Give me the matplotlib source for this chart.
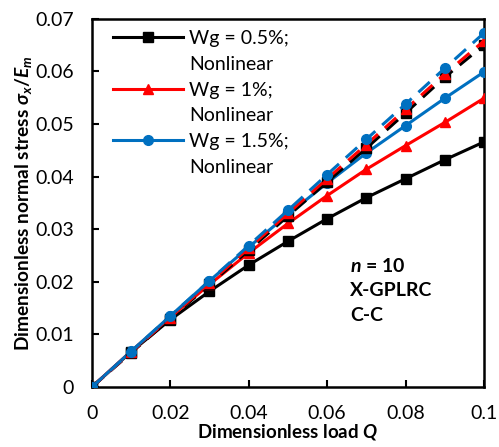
import matplotlib
matplotlib.use("Agg")
import matplotlib.pyplot as plt
from matplotlib.lines import Line2D

plt.rcParams['font.family'] = ['Lato', 'DejaVu Sans']
plt.rcParams['mathtext.fontset'] = 'custom'
plt.rcParams['mathtext.rm'] = 'Lato:bold'
plt.rcParams['mathtext.it'] = 'Lato:bold:italic'
plt.rcParams['mathtext.bf'] = 'Lato:bold'

Q = [0, 0.01, 0.02, 0.03, 0.04, 0.05, 0.06, 0.07, 0.08, 0.09, 0.1]

nl_05 = [0, 0.0067, 0.0128, 0.0182, 0.0232, 0.0277, 0.0320, 0.0360, 0.0396, 0.0432, 0.0466]
nl_10 = [0, 0.0068, 0.0133, 0.0195, 0.0255, 0.0311, 0.0364, 0.0414, 0.0459, 0.0503, 0.0549]
nl_15 = [0, 0.0068, 0.0135, 0.0202, 0.0266, 0.0328, 0.0388, 0.0445, 0.0497, 0.0549, 0.0599]

lin_05 = [0, 0.0065, 0.0130, 0.0195, 0.0260, 0.0325, 0.0390, 0.0454, 0.0521, 0.0589, 0.0650]
lin_10 = [0, 0.0066, 0.0132, 0.0198, 0.0264, 0.0330, 0.0396, 0.0461, 0.0528, 0.0595, 0.0658]
lin_15 = [0, 0.0067, 0.0135, 0.0202, 0.0269, 0.0336, 0.0404, 0.0471, 0.0538, 0.0606, 0.0673]

labels = ["Wg = 0.5%;", "Wg = 1%;", "Wg = 1.5%;"]
label2 = "Nonlinear"
colors = ["#000000", "#FF0000", "#0070C0"]
markers = ["s", "^", "o"]
msizes = [6.5, 6.5, 7]

fig = plt.figure(figsize=(4.99, 4.47), dpi=100)
ax = fig.add_axes([0.184, 0.134, 0.786, 0.824])

handles = []
leg_labels = []
for y, c, m, ms, lab in zip([nl_05, nl_10, nl_15], colors, markers, msizes, labels):
    h, = ax.plot(Q, y, color=c, marker=m, markersize=ms, lw=2.2, zorder=3)
    handles.append(h)
    leg_labels.append(lab)
    handles.append(Line2D([], [], linestyle='none', marker='none'))
    leg_labels.append(label2)
for y, c, m, ms in zip([lin_05, lin_10, lin_15], colors, markers, msizes):
    ax.plot(Q, y, color=c, marker=m, markersize=ms, lw=2.2, linestyle=(0, (5, 3)), zorder=4)

ax.set_xlim(0, 0.1)
ax.set_ylim(0, 0.07)
ax.set_xticks([0, 0.02, 0.04, 0.06, 0.08, 0.1])
ax.set_xticklabels(["0", "0.02", "0.04", "0.06", "0.08", "0.1"])
ax.set_yticks([0, 0.01, 0.02, 0.03, 0.04, 0.05, 0.06, 0.07])
ax.set_yticklabels(["0", "0.01", "0.02", "0.03", "0.04", "0.05", "0.06", "0.07"])
ax.tick_params(direction='in', length=5, width=1.5, labelsize=14)
ax.tick_params(axis='x', pad=13)
ax.tick_params(axis='y', pad=13)
for s in ax.spines.values():
    s.set_linewidth(1.8)

ax.set_xlabel(r"Dimensionless load $Q$", fontsize=13.5, fontweight='bold', labelpad=0)
ax.set_ylabel(r"Dimensionless normal stress $\sigma_x/E_m$", fontsize=13.8, fontweight='bold', labelpad=1)

leg = ax.legend(handles=handles, labels=leg_labels, loc='upper left', frameon=False, fontsize=14,
                handlelength=3.6, handletextpad=0.3, labelspacing=0.45,
                borderaxespad=0.0, bbox_to_anchor=(0.035, 0.99))

ax.text(0.0658, 0.0248, r"$n$ = 10" + "\nX-GPLRC\nC-C", fontsize=14, fontweight='bold',
        va='top', ha='left', linespacing=1.55)

fig.savefig("out.png", dpi=100)
